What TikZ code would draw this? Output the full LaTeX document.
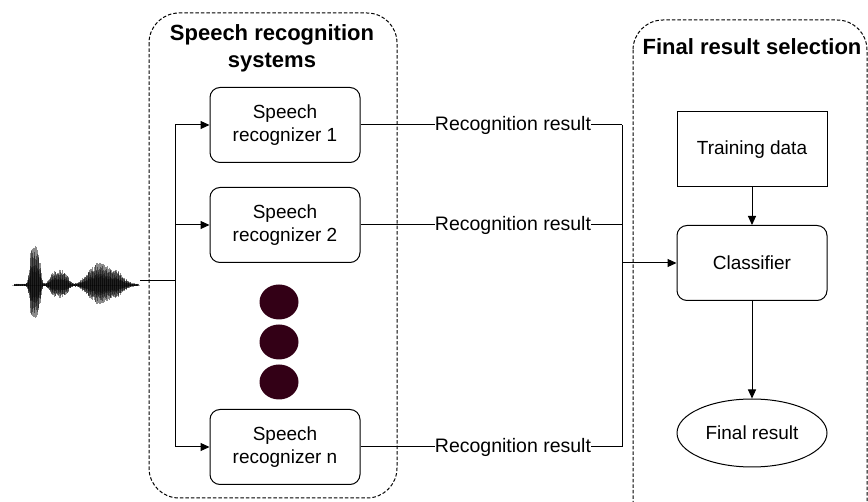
\documentclass[tikz,border=0pt]{standalone}
\usepackage{fontspec}
\setmainfont{Liberation Sans}
\usetikzlibrary{arrows.meta,shapes.geometric}
\definecolor{dotc}{RGB}{51,0,22}
\tikzset{
  px/.style={x=1pt,y=-1pt},
  group/.style={draw,line width=1pt,dash pattern=on 3.5pt off 2pt,rounded corners=30pt},
  recbox/.style={draw,line width=1pt,rounded corners=10pt,minimum width=150pt,minimum height=75pt,align=center,font=\fontsize{19}{23}\selectfont},
  plainbox/.style={draw,line width=1pt,minimum width=150pt,minimum height=75pt,align=center,font=\fontsize{19}{23}\selectfont},
  ellbox/.style={draw,line width=1pt,ellipse,minimum width=150pt,minimum height=68pt,inner sep=0pt,font=\fontsize{19}{23}\selectfont},
  lab/.style={inner sep=0pt,font=\fontsize{19.5}{23}\selectfont},
  title/.style={align=center,font=\bfseries\fontsize{22}{27}\selectfont},
  conn/.style={line width=1pt},
  arr/.style={line width=1pt,-{Triangle[length=9pt,width=8pt]}},
  dot/.style={fill=dotc,ellipse,minimum width=39pt,minimum height=35pt,inner sep=0pt},
}
\begin{document}
\begin{tikzpicture}[px]
\useasboundingbox (0,0) rectangle (868,502);
\clip (0,0) rectangle (868,502);
% groups
\draw[group] (149,13) rectangle (397,498);
\draw[group] (633,20) rectangle (867,540);
\node[title] at (272,48) {Speech recognition\\systems};
\node[title] at (752,47) {Final result selection};
% waveform
\pgfmathsetseed{7}
\draw[gray!60,line width=0.8pt] (12,285) -- (140,285);
\foreach \x in {14,14.4,...,138}{
  \pgfmathsetmacro{\ua}{min(((\x-35)/6)^2,6)}
  \pgfmathsetmacro{\ub}{min(((\x-33)/3)^2,30)}
  \pgfmathsetmacro{\uc}{min(((\x-59)/10)^2,6)}
  \pgfmathsetmacro{\ud}{min(((\x-104)/21)^2,6)}
  \pgfmathsetmacro{\ue}{min(((\x-99)/9)^2,30)}
  \pgfmathsetmacro{\a}{34*exp(-\ua*\ua)+8*exp(-\ub)+14*exp(-\uc*\uc)+15*exp(-\ud*\ud)+6*exp(-\ue)+1.5}
  \pgfmathsetmacro{\r}{0.6+0.4*rnd}
  \pgfmathsetmacro{\b}{\a*\r}
  \draw[black,opacity=0.45,line width=0.9pt] (\x,285-\b) -- (\x,285+\b*0.85);
  \draw[black,opacity=0.35,line width=0.9pt] (\x,285-\b*0.5) -- (\x,285+\b*0.45);
}
\coordinate (wave) at (140,281);
% recognizers
\node[recbox] (rec1) at (285,125) {Speech\\recognizer 1};
\node[recbox] (rec2) at (285,225) {Speech\\recognizer 2};
\node[recbox] (recn) at (285,447) {Speech\\recognizer n};
\node[dot] (d1) at (279,302) {};
\node[dot] (d2) at (279,342) {};
\node[dot] (d3) at (279,382) {};
% fan-out
\coordinate (split) at (175,281);
\coordinate (top) at (175,125);
\coordinate (bot) at (175,447);
\draw[conn] (wave) -- (split);
\draw[conn] (top) -- (bot);
\draw[arr] (top) -- (rec1.west);
\draw[arr] (175,225) -- (rec2.west);
\draw[arr] (bot) -- (recn.west);
% results
\node[lab] (l1) at (513,125) {Recognition result};
\node[lab] (l2) at (513,225) {Recognition result};
\node[lab] (ln) at (513,447) {Recognition result};
\coordinate (j1) at (622,125);
\coordinate (j2) at (622,225);
\coordinate (jn) at (622,447);
\coordinate (jc) at (622,263);
\draw[conn] (rec1.east) -- (l1.west);
\draw[conn] (l1.east) -- (j1);
\draw[conn] (rec2.east) -- (l2.west);
\draw[conn] (l2.east) -- (j2);
\draw[conn] (recn.east) -- (ln.west);
\draw[conn] (ln.east) -- (jn);
\draw[conn] (j1) -- (jn);
% final selection
\node[plainbox] (train) at (752,149.5) {Training data};
\node[recbox] (cls) at (752,263) {Classifier};
\node[ellbox] (final) at (752,433) {Final result};
\draw[arr] (jc) -- (cls.west);
\draw[arr] (train) -- (cls);
\draw[arr] (cls) -- (final);
\end{tikzpicture}
\end{document}
